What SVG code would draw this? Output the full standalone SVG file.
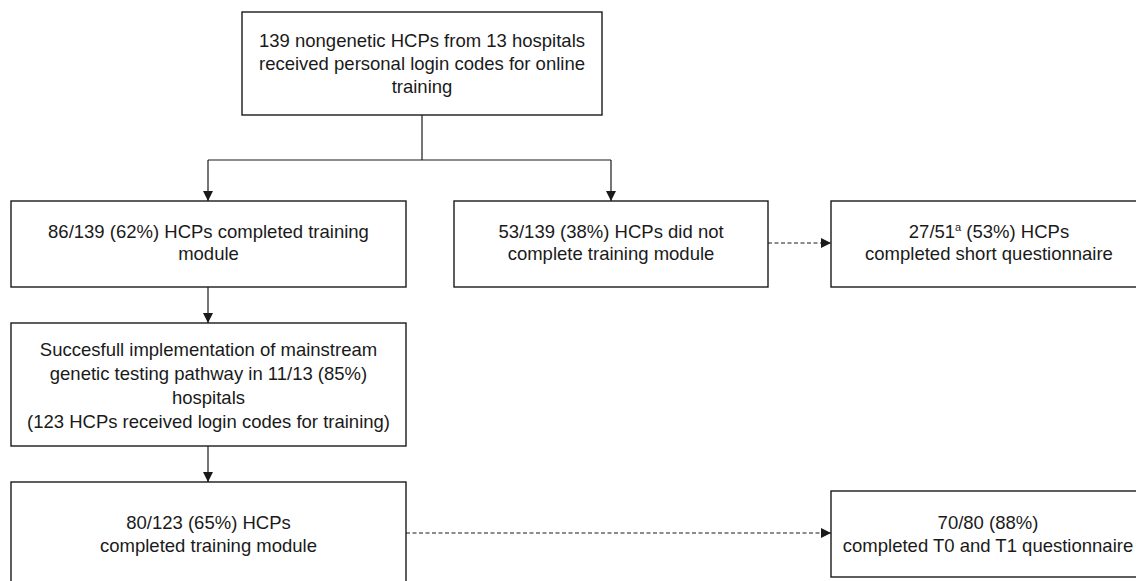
<svg xmlns="http://www.w3.org/2000/svg" width="1136" height="581" viewBox="0 0 1136 581">
<style>
.box{fill:#fff;stroke:#1a1a1a;stroke-width:1.4}
.t{font-family:"Liberation Sans",Arial,sans-serif;font-size:18.5px;fill:#1a1a1a;text-anchor:middle}
.c{fill:none;stroke:#1a1a1a;stroke-width:1.2}
.d{stroke-dasharray:4 2.5}
</style>
<defs>
<marker id="ah" viewBox="0 0 10 10" refX="10" refY="5" markerWidth="10" markerHeight="10" markerUnits="userSpaceOnUse" orient="auto">
<path d="M0,0 L10,5 L0,10 Z" fill="#1a1a1a"/>
</marker>
</defs>
<g id="connectors">
<path class="c" d="M422,115 V160"/>
<path class="c" d="M208,160 H611"/>
<path class="c" d="M208,160 V201" marker-end="url(#ah)"/>
<path class="c" d="M611,160 V201" marker-end="url(#ah)"/>
<path class="c d" d="M768,243 H831" marker-end="url(#ah)"/>
<path class="c" d="M208,287 V323" marker-end="url(#ah)"/>
<path class="c" d="M208,446 V482" marker-end="url(#ah)"/>
<path class="c d" d="M406,533 H831" marker-end="url(#ah)"/>
</g>
<g id="n-start">
<rect class="box" x="242" y="12" width="360" height="103"/>
<text class="t" x="422" y="47">139 nongenetic HCPs from 13 hospitals</text>
<text class="t" x="422" y="70">received personal login codes for online</text>
<text class="t" x="422" y="93">training</text>
</g>
<g id="n-completed">
<rect class="box" x="11" y="201" width="395" height="86"/>
<text class="t" x="208.5" y="238">86/139 (62%) HCPs completed training</text>
<text class="t" x="208.5" y="260">module</text>
</g>
<g id="n-notcompleted">
<rect class="box" x="454" y="201" width="314" height="86"/>
<text class="t" x="611" y="238">53/139 (38%) HCPs did not</text>
<text class="t" x="611" y="260">complete training module</text>
</g>
<g id="n-short">
<rect class="box" x="831" y="201" width="316" height="86"/>
<text class="t" x="989" y="238">27/51<tspan font-size="11" dy="-7">a</tspan><tspan dy="7"> (53%) HCPs</tspan></text>
<text class="t" x="989" y="260">completed short questionnaire</text>
</g>
<g id="n-implementation">
<rect class="box" x="11" y="323" width="395" height="123"/>
<text class="t" x="208.5" y="356">Succesfull implementation of mainstream</text>
<text class="t" x="208.5" y="380">genetic testing pathway in 11/13 (85%)</text>
<text class="t" x="208.5" y="404">hospitals</text>
<text class="t" x="208.5" y="428">(123 HCPs received login codes for training)</text>
</g>
<g id="n-completed2">
<rect class="box" x="11" y="482" width="395" height="130"/>
<text class="t" x="208.5" y="529">80/123 (65%) HCPs</text>
<text class="t" x="208.5" y="552">completed training module</text>
</g>
<g id="n-t0t1">
<rect class="box" x="831" y="491" width="316" height="86"/>
<text class="t" x="988" y="529">70/80 (88%)</text>
<text class="t" x="988" y="552">completed T0 and T1 questionnaire</text>
</g>
</svg>
